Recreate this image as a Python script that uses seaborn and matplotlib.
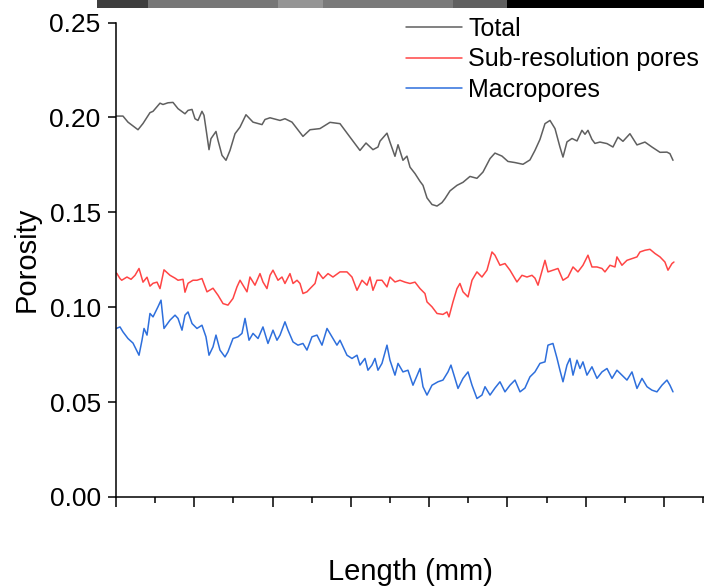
import matplotlib
matplotlib.use("Agg")
import matplotlib.pyplot as plt
import numpy as np
import pandas as pd
import seaborn as sns
from matplotlib.ticker import MultipleLocator, FormatStrFormatter, NullFormatter
from matplotlib.patches import Rectangle

# ---- porosity profiles along the sample length ----
total_len = [0.000, 0.089, 0.153, 0.281, 0.345, 0.434, 0.473, 0.562, 0.600, 0.664,
             0.728, 0.792, 0.881, 0.920, 0.971, 1.009, 1.047, 1.098, 1.124, 1.149,
             1.188, 1.213, 1.277, 1.303, 1.354, 1.405, 1.456, 1.520, 1.584, 1.660,
             1.750, 1.865, 1.903, 1.967, 2.095, 2.158, 2.248, 2.388, 2.478, 2.605,
             2.733, 2.861, 2.989, 3.116, 3.193, 3.282, 3.346, 3.372, 3.461, 3.499,
             3.563, 3.602, 3.665, 3.716, 3.755, 3.819, 3.883, 3.921, 3.972, 4.036,
             4.100, 4.163, 4.202, 4.266, 4.355, 4.432, 4.521, 4.610, 4.687, 4.777,
             4.840, 4.930, 5.006, 5.096, 5.198, 5.287, 5.351, 5.415, 5.479, 5.543,
             5.607, 5.670, 5.709, 5.760, 5.824, 5.888, 5.951, 5.990, 6.028, 6.079,
             6.117, 6.181, 6.271, 6.347, 6.411, 6.475, 6.564, 6.654, 6.756, 6.845,
             6.948, 7.037, 7.075, 7.114]
total_por = [0.2007, 0.2007, 0.1975, 0.1935, 0.1968, 0.2025, 0.2032, 0.2075, 0.2068, 0.2077,
             0.2079, 0.2046, 0.2019, 0.2037, 0.2042, 0.1993, 0.1984, 0.2032, 0.2011, 0.1941,
             0.1830, 0.1888, 0.1926, 0.1879, 0.1800, 0.1774, 0.1826, 0.1914, 0.1949, 0.2014,
             0.1975, 0.1962, 0.1989, 0.1998, 0.1984, 0.1993, 0.1975, 0.1900, 0.1935, 0.1941,
             0.1974, 0.1967, 0.1896, 0.1826, 0.1865, 0.1830, 0.1844, 0.1875, 0.1917, 0.1870,
             0.1795, 0.1856, 0.1774, 0.1796, 0.1738, 0.1704, 0.1663, 0.1642, 0.1576, 0.1541,
             0.1533, 0.1551, 0.1572, 0.1613, 0.1642, 0.1658, 0.1689, 0.1679, 0.1712, 0.1783,
             0.1812, 0.1796, 0.1768, 0.1762, 0.1753, 0.1776, 0.1826, 0.1884, 0.1967, 0.1984,
             0.1941, 0.1844, 0.1791, 0.1871, 0.1889, 0.1876, 0.1932, 0.1911, 0.1932, 0.1884,
             0.1863, 0.1870, 0.1862, 0.1844, 0.1896, 0.1874, 0.1914, 0.1855, 0.1870, 0.1844,
             0.1816, 0.1817, 0.1809, 0.1774]

subres_len = [0.009, 0.051, 0.073, 0.140, 0.192, 0.243, 0.294, 0.345, 0.396, 0.434,
              0.473, 0.524, 0.562, 0.613, 0.690, 0.754, 0.792, 0.856, 0.881, 0.920,
              0.983, 1.034, 1.098, 1.162, 1.239, 1.303, 1.367, 1.430, 1.494, 1.545,
              1.584, 1.673, 1.711, 1.775, 1.839, 1.877, 1.928, 1.967, 2.005, 2.069,
              2.120, 2.158, 2.222, 2.261, 2.312, 2.350, 2.388, 2.439, 2.478, 2.542,
              2.580, 2.644, 2.708, 2.771, 2.861, 2.950, 3.014, 3.078, 3.142, 3.206,
              3.244, 3.282, 3.333, 3.397, 3.461, 3.499, 3.563, 3.627, 3.691, 3.755,
              3.819, 3.883, 3.946, 3.972, 4.036, 4.100, 4.176, 4.227, 4.253, 4.304,
              4.355, 4.393, 4.432, 4.496, 4.547, 4.610, 4.674, 4.738, 4.802, 4.840,
              4.904, 4.968, 5.032, 5.121, 5.185, 5.249, 5.313, 5.351, 5.390, 5.479,
              5.517, 5.581, 5.645, 5.709, 5.773, 5.837, 5.900, 5.964, 6.028, 6.079,
              6.143, 6.207, 6.245, 6.309, 6.373, 6.398, 6.462, 6.526, 6.590, 6.654,
              6.692, 6.756, 6.820, 6.884, 6.948, 7.011, 7.050, 7.101, 7.126]
subres_por = [0.1179, 0.1151, 0.1142, 0.1159, 0.1147, 0.1168, 0.1204, 0.1132, 0.1158, 0.1111,
              0.1126, 0.1132, 0.1098, 0.1197, 0.1168, 0.1153, 0.1142, 0.1147, 0.1079, 0.1126,
              0.1142, 0.1142, 0.1151, 0.1081, 0.1100, 0.1063, 0.1019, 0.1011, 0.1046, 0.1107,
              0.1142, 0.1081, 0.1159, 0.1116, 0.1177, 0.1133, 0.1098, 0.1168, 0.1195, 0.1142,
              0.1159, 0.1125, 0.1177, 0.1125, 0.1142, 0.1125, 0.1072, 0.1081, 0.1098, 0.1125,
              0.1186, 0.1151, 0.1177, 0.1159, 0.1186, 0.1186, 0.1159, 0.1089, 0.1142, 0.1116,
              0.1159, 0.1089, 0.1142, 0.1142, 0.1107, 0.1159, 0.1133, 0.1142, 0.1132, 0.1125,
              0.1132, 0.1098, 0.1072, 0.1028, 0.1002, 0.0967, 0.0962, 0.0975, 0.0949, 0.1028,
              0.1098, 0.1125, 0.1081, 0.1054, 0.1142, 0.1186, 0.1159, 0.1195, 0.1291, 0.1274,
              0.1221, 0.1230, 0.1195, 0.1133, 0.1168, 0.1159, 0.1168, 0.1153, 0.1116, 0.1247,
              0.1186, 0.1195, 0.1204, 0.1142, 0.1159, 0.1212, 0.1186, 0.1221, 0.1274, 0.1212,
              0.1212, 0.1204, 0.1186, 0.1221, 0.1212, 0.1265, 0.1221, 0.1247, 0.1256, 0.1265,
              0.1291, 0.1300, 0.1305, 0.1283, 0.1265, 0.1238, 0.1195, 0.1230, 0.1238]

macro_len = [0.009, 0.051, 0.089, 0.153, 0.217, 0.294, 0.332, 0.358, 0.396, 0.434,
             0.473, 0.536, 0.575, 0.613, 0.690, 0.754, 0.792, 0.843, 0.881, 0.920,
             0.971, 1.034, 1.098, 1.149, 1.188, 1.239, 1.277, 1.328, 1.392, 1.430,
             1.494, 1.558, 1.609, 1.648, 1.699, 1.750, 1.814, 1.877, 1.941, 2.005,
             2.056, 2.095, 2.158, 2.197, 2.261, 2.324, 2.388, 2.439, 2.503, 2.567,
             2.631, 2.695, 2.759, 2.822, 2.861, 2.950, 3.014, 3.078, 3.116, 3.180,
             3.218, 3.269, 3.308, 3.346, 3.397, 3.461, 3.499, 3.563, 3.602, 3.665,
             3.729, 3.793, 3.883, 3.921, 3.972, 4.036, 4.112, 4.176, 4.240, 4.278,
             4.330, 4.368, 4.432, 4.496, 4.547, 4.610, 4.674, 4.713, 4.777, 4.840,
             4.904, 4.968, 5.032, 5.096, 5.160, 5.223, 5.287, 5.351, 5.415, 5.479,
             5.517, 5.581, 5.632, 5.670, 5.709, 5.760, 5.798, 5.837, 5.888, 5.926,
             5.964, 6.015, 6.079, 6.143, 6.207, 6.271, 6.335, 6.398, 6.462, 6.526,
             6.590, 6.654, 6.718, 6.782, 6.845, 6.909, 6.973, 7.037, 7.075, 7.114]
macro_por = [0.0889, 0.0896, 0.0870, 0.0835, 0.0811, 0.0747, 0.0826, 0.0888, 0.0853, 0.0967,
             0.0949, 0.1002, 0.1037, 0.0888, 0.0932, 0.0958, 0.0941, 0.0879, 0.0958, 0.0975,
             0.0914, 0.0888, 0.0905, 0.0844, 0.0747, 0.0791, 0.0853, 0.0774, 0.0738, 0.0765,
             0.0835, 0.0844, 0.0862, 0.0941, 0.0826, 0.0862, 0.0835, 0.0896, 0.0809, 0.0879,
             0.0826, 0.0853, 0.0923, 0.0879, 0.0817, 0.0800, 0.0809, 0.0774, 0.0844, 0.0853,
             0.0800, 0.0888, 0.0844, 0.0800, 0.0826, 0.0747, 0.0730, 0.0747, 0.0695, 0.0730,
             0.0668, 0.0695, 0.0730, 0.0668, 0.0704, 0.0800, 0.0721, 0.0642, 0.0704, 0.0659,
             0.0668, 0.0589, 0.0677, 0.0581, 0.0537, 0.0589, 0.0607, 0.0616, 0.0659, 0.0695,
             0.0625, 0.0572, 0.0625, 0.0659, 0.0589, 0.0519, 0.0537, 0.0581, 0.0537, 0.0574,
             0.0607, 0.0554, 0.0589, 0.0616, 0.0554, 0.0574, 0.0633, 0.0659, 0.0704, 0.0712,
             0.0800, 0.0809, 0.0732, 0.0668, 0.0607, 0.0695, 0.0730, 0.0642, 0.0721, 0.0677,
             0.0712, 0.0642, 0.0686, 0.0625, 0.0659, 0.0677, 0.0625, 0.0668, 0.0642, 0.0616,
             0.0659, 0.0572, 0.0625, 0.0581, 0.0563, 0.0554, 0.0589, 0.0616, 0.0589, 0.0554]

series_names = ["Total", "Sub-resolution pores", "Macropores"]
series_colors = ["#5f5f5f", "#ff4545", "#2e6fdc"]
y_ticks = [0.00, 0.05, 0.10, 0.15, 0.20, 0.25]

sns.set_style("ticks")
plt.rcParams["font.family"] = ["Liberation Sans", "DejaVu Sans"]
plt.rcParams["text.color"] = "black"
plt.rcParams["axes.labelcolor"] = "black"
plt.rcParams["xtick.color"] = "black"
plt.rcParams["ytick.color"] = "black"

fig = plt.figure(figsize=(7.04, 5.86), dpi=100)

# dark strip of the sample photograph along the top edge
strip_parts = [(97, 148, "#3e3e3e"), (148, 278, "#777777"), (278, 323, "#959595"),
               (323, 453, "#7a7a7a"), (453, 507, "#606060"), (507, 704, "#000000")]
for x0, x1, c in strip_parts:
    fig.patches.append(Rectangle((x0 / 704, 1 - 7.5 / 586), (x1 - x0) / 704, 7.5 / 586,
                                 transform=fig.transFigure, facecolor=c, edgecolor="none"))

ax = fig.add_axes([116 / 704, 89 / 586, 588 / 704, 474.5 / 586])

frames = [
    pd.DataFrame({"Length": total_len, "Porosity": total_por, "Type": series_names[0]}),
    pd.DataFrame({"Length": subres_len, "Porosity": subres_por, "Type": series_names[1]}),
    pd.DataFrame({"Length": macro_len, "Porosity": macro_por, "Type": series_names[2]}),
]
for df, name, col in zip(frames, series_names, series_colors):
    sns.lineplot(data=df, x="Length", y="Porosity", ax=ax, color=col, lw=1.1,
                 estimator=None, sort=False, label=name)

ax.set_xlim(0, 7.51)
ax.set_ylim(0, 0.25)
ax.set_yticks(y_ticks)
ax.yaxis.set_major_formatter(FormatStrFormatter("%.2f"))
ax.xaxis.set_major_locator(MultipleLocator(1))
ax.xaxis.set_minor_locator(MultipleLocator(0.5))
ax.xaxis.set_major_formatter(NullFormatter())

for s in ["top", "right"]:
    ax.spines[s].set_visible(False)
for s in ["left", "bottom"]:
    ax.spines[s].set_linewidth(1.1)
    ax.spines[s].set_color("black")

ax.tick_params(axis="y", which="major", direction="out", length=6, width=1.1,
               labelsize=19, pad=5, color="black", labelcolor="black")
ax.tick_params(axis="x", which="major", direction="out", length=7, width=1.1, color="black")
ax.tick_params(axis="x", which="minor", direction="out", length=4, width=1.1, color="black")

ax.set_ylabel("Porosity", fontsize=21, color="black")
ax.set_xlabel("Length (mm)", fontsize=21, color="black")
ax.yaxis.set_label_coords(-0.128, 0.5)
ax.xaxis.set_label_coords(0.5, -0.128)

leg = ax.legend(loc="upper left", bbox_to_anchor=(406 / 704, 1 - 17 / 586),
                bbox_transform=fig.transFigure, frameon=False, fontsize=18,
                handlelength=2.25, handletextpad=0.25, labelspacing=0.25,
                borderpad=0, borderaxespad=0)
for line in leg.get_lines():
    line.set_linewidth(1.1)
for t in leg.get_texts():
    t.set_color("black")

fig.savefig("out.png", dpi=100)
